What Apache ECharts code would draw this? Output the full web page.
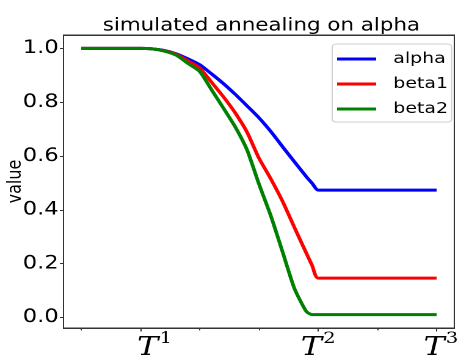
<!DOCTYPE html>
<html lang="en">
<head>
    <meta charset="UTF-8">
    <title>simulated annealing on alpha</title>
    <script src="https://cdn.jsdelivr.net/npm/echarts@6/dist/echarts.min.js"></script>
    <style>
        html, body { margin: 0; padding: 0; background: #fff; overflow: hidden; }
        /* the reference picture is stretched sideways, so draw narrower and stretch */
        #chart { width: 375px; height: 355px; transform: scaleX(1.2213); transform-origin: 0 0; }
        /* axes frame, in page pixels */
        #frame {
            position: absolute; left: 63px; top: 35px; width: 392px; height: 294px;
            box-sizing: border-box; border: 1px solid #333; pointer-events: none;
        }
    </style>
</head>
<body>
<div id="chart"></div>
<div id="frame"></div>
<script>
    // x in tick units: T1 = 1, T2 = 4, T3 = 6
    let xs = [0, 1, 1.2, 1.4, 1.6, 1.8, 2.0, 2.2, 2.4, 2.6, 2.8, 3.0, 3.2, 3.4, 3.6, 3.8, 3.9, 4.0, 6.0];
    let alpha = [1, 1, 0.998, 0.992, 0.980, 0.961, 0.939, 0.905, 0.869, 0.829, 0.786, 0.742, 0.691, 0.634, 0.578, 0.523, 0.498, 0.473, 0.473];
    let beta1 = [1, 1, 0.998, 0.991, 0.978, 0.953, 0.927, 0.874, 0.820, 0.760, 0.688, 0.592, 0.515, 0.431, 0.334, 0.239, 0.192, 0.146, 0.146];
    let beta2 = [1, 1, 0.998, 0.990, 0.975, 0.944, 0.914, 0.846, 0.778, 0.708, 0.622, 0.496, 0.378, 0.243, 0.107, 0.022, 0.010, 0.010, 0.010];

    let majorTicks = [1, 4, 6];
    let majorLabels = ['1', '2', '3'];
    let minorTicks = [0, 1, 2, 3, 4, 5, 6];
    let yTicks = [0, 0.2, 0.4, 0.6, 0.8, 1.0];

    function pairs(vals) {
        return xs.map(function (x, i) { return [x, vals[i]]; });
    }

    let chart = echarts.init(document.getElementById('chart'), null, {renderer: 'canvas', devicePixelRatio: 2});
    let font = 'DejaVu Sans';

    function line(name, color, vals) {
        return {
            name: name,
            type: 'line',
            data: pairs(vals),
            showSymbol: false,
            smooth: 0.2,
            lineStyle: {color: color, width: 3, join: 'round'},
            itemStyle: {color: color},
            animation: false
        };
    }

    let option = {
        backgroundColor: '#fff',
        title: {
            text: 'simulated annealing on alpha',
            left: 209, top: 12, textAlign: 'center',
            textStyle: {fontFamily: font, fontSize: 17.5, fontWeight: 'normal', color: '#000'}
        },
        grid: {
            left: 52, right: 3, top: 35, bottom: 27,
            containLabel: false, outerBoundsMode: 'none',
            show: true, borderColor: '#333', borderWidth: 1
        },
        legend: {
            left: 272, top: 44,
            orient: 'vertical',
            icon: 'rect',
            itemWidth: 32, itemHeight: 3,
            itemGap: 5,
            padding: [5, 3, 3, 4],
            borderColor: '#d0d0d0', borderWidth: 1, borderRadius: 3,
            backgroundColor: 'rgba(255,255,255,0.8)',
            textStyle: {fontFamily: font, fontSize: 15.5, color: '#000', lineHeight: 20, padding: [0, 0, 0, 9]},
            data: ['alpha', 'beta1', 'beta2']
        },
        xAxis: [{
            type: 'value', min: -0.3, max: 6.3, position: 'bottom',
            splitLine: {show: false},
            axisLine: {show: false, onZero: false},
            axisTick: {show: true, length: 2.4, customValues: minorTicks, lineStyle: {color: '#333'}},
            axisLabel: {show: false}
        }, {
            type: 'value', min: -0.3, max: 6.3, position: 'bottom',
            splitLine: {show: false},
            axisLine: {show: false, onZero: false},
            axisTick: {show: true, length: 3.5, customValues: majorTicks, lineStyle: {color: '#333'}},
            axisLabel: {
                show: true,
                customValues: majorTicks,
                margin: 3,
                formatter: function (v) {
                    let i = majorTicks.indexOf(v);
                    let pad = i === 0 ? '{p|}' : (i === 2 ? '{q|}' : '');
                    return pad + '{t|T}{s|' + majorLabels[i] + '}';
                },
                rich: {
                    p: {width: 23, height: 1},
                    q: {width: 7, height: 1},
                    t: {fontFamily: 'DejaVu Serif', fontStyle: 'italic', fontSize: 26, color: '#000', verticalAlign: 'top', lineHeight: 30, padding: [4, 0, 0, 0]},
                    s: {fontFamily: 'DejaVu Serif', fontSize: 16, color: '#000', verticalAlign: 'top', lineHeight: 20, padding: [0, 0, 0, 1]}
                }
            }
        }],
        yAxis: {
            type: 'value', min: -0.0395, max: 1.0495, position: 'left',
            name: 'value', nameLocation: 'middle', nameGap: 31, nameMoveOverlap: false,
            nameTextStyle: {fontFamily: font, fontSize: 16, color: '#000'},
            splitLine: {show: false},
            axisLine: {show: false, onZero: false},
            axisTick: {show: true, length: 3, customValues: yTicks, lineStyle: {color: '#333'}},
            axisLabel: {
                customValues: yTicks, margin: 4,
                fontFamily: font, fontSize: 18.5, color: '#000',
                formatter: function (v) { return v.toFixed(1); }
            }
        },
        series: [
            line('alpha', '#0000ff', alpha),
            line('beta1', '#ff0000', beta1),
            line('beta2', '#008000', beta2)
        ]
    };

    chart.setOption(option);
</script>
</body>
</html>
